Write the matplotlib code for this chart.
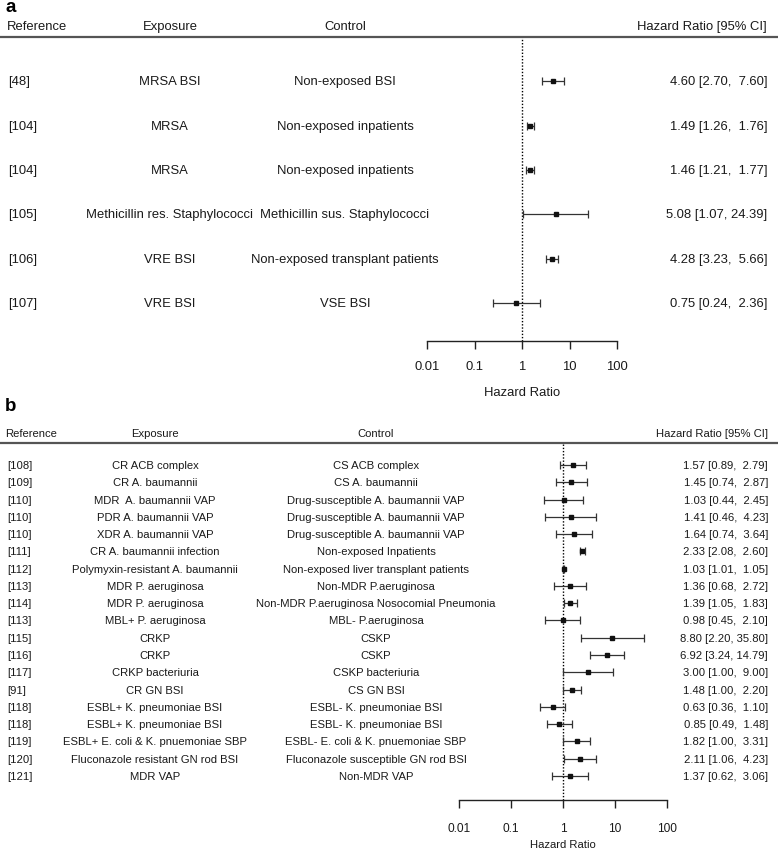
import matplotlib
matplotlib.use("Agg")
import matplotlib.pyplot as plt
import numpy as np

plt.rcParams["font.family"] = ["Liberation Sans", "DejaVu Sans"]

# ---- panel a data ----
refs_a = ["[48]", "[104]", "[104]", "[105]", "[106]", "[107]"]
exposure_a = ["MRSA BSI", "MRSA", "MRSA", "Methicillin res. Staphylococci",
              "VRE BSI", "VRE BSI"]
control_a = ["Non-exposed BSI", "Non-exposed inpatients", "Non-exposed inpatients",
             "Methicillin sus. Staphylococci", "Non-exposed transplant patients",
             "VSE BSI"]
hr_a = [4.60, 1.49, 1.46, 5.08, 4.28, 0.75]
lo_a = [2.70, 1.26, 1.21, 1.07, 3.23, 0.24]
hi_a = [7.60, 1.76, 1.77, 24.39, 5.66, 2.36]

# ---- panel b data ----
refs_b = ["[108]", "[109]", "[110]", "[110]", "[110]", "[111]", "[112]", "[113]",
          "[114]", "[113]", "[115]", "[116]", "[117]", "[91]", "[118]", "[118]",
          "[119]", "[120]", "[121]"]
exposure_b = ["CR ACB complex", "CR A. baumannii", "MDR  A. baumannii VAP",
              "PDR A. baumannii VAP", "XDR A. baumannii VAP",
              "CR A. baumannii infection", "Polymyxin-resistant A. baumannii",
              "MDR P. aeruginosa", "MDR P. aeruginosa", "MBL+ P. aeruginosa",
              "CRKP", "CRKP", "CRKP bacteriuria", "CR GN BSI",
              "ESBL+ K. pneumoniae BSI", "ESBL+ K. pneumoniae BSI",
              "ESBL+ E. coli & K. pnuemoniae SBP", "Fluconazole resistant GN rod BSI",
              "MDR VAP"]
control_b = ["CS ACB complex", "CS A. baumannii", "Drug-susceptible A. baumannii VAP",
             "Drug-susceptible A. baumannii VAP", "Drug-susceptible A. baumannii VAP",
             "Non-exposed Inpatients", "Non-exposed liver transplant patients",
             "Non-MDR P.aeruginosa", "Non-MDR P.aeruginosa Nosocomial Pneumonia",
             "MBL- P.aeruginosa", "CSKP", "CSKP", "CSKP bacteriuria", "CS GN BSI",
             "ESBL- K. pneumoniae BSI", "ESBL- K. pneumoniae BSI",
             "ESBL- E. coli & K. pnuemoniae SBP", "Fluconazole susceptible GN rod BSI",
             "Non-MDR VAP"]
hr_b = [1.57, 1.45, 1.03, 1.41, 1.64, 2.33, 1.03, 1.36, 1.39, 0.98, 8.80, 6.92,
        3.00, 1.48, 0.63, 0.85, 1.82, 2.11, 1.37]
lo_b = [0.89, 0.74, 0.44, 0.46, 0.74, 2.08, 1.01, 0.68, 1.05, 0.45, 2.20, 3.24,
        1.00, 1.00, 0.36, 0.49, 1.00, 1.06, 0.62]
hi_b = [2.79, 2.87, 2.45, 4.23, 3.64, 2.60, 1.05, 2.72, 1.83, 2.10, 35.80, 14.79,
        9.00, 2.20, 1.10, 1.48, 3.31, 4.23, 3.06]

tick_vals = [0.01, 0.1, 1, 10, 100]
tick_labels = ["0.01", "0.1", "1", "10", "100"]

W, H = 778, 853
fig = plt.figure(figsize=(W / 100, H / 100), dpi=100)
TXT = "#1a1a1a"


def panel(letter, refs, exposure, control, hr, lo, hi, top_px, bottom_px,
          x01_px, x100_px, ref_x, exp_x, ctrl_x, hr_x, fs, tick_fs, top_pad,
          bot_pad, head_off, tick_pad, label_pad, letter_y):
    ax = fig.add_axes([0, (H - bottom_px) / H, 1, (bottom_px - top_px) / H])
    ax_h = bottom_px - top_px
    n = len(refs)
    y = np.arange(n)
    hr, lo, hi = np.array(hr), np.array(lo), np.array(hi)

    ax.set_xscale("log")
    ppu = (x100_px - x01_px) / 4.0
    ax.set_xlim(10 ** (-2 - x01_px / ppu), 10 ** (2 + (W - x100_px) / ppu))
    ax.set_ylim(n - 1 + bot_pad, -top_pad)

    ax.axvline(1, color="black", lw=1, ls=(0, (1, 1.3)))
    ax.errorbar(hr, y, xerr=[hr - lo, hi - hr], fmt="s", ms=3.5, color="#111111",
                ecolor="#333333", elinewidth=0.9, capsize=2.6, capthick=0.9)

    tr = ax.get_yaxis_transform()
    for i in range(n):
        ax.text(ref_x / W, i, refs[i], transform=tr, ha="left", va="center",
                fontsize=fs, color=TXT)
        ax.text(exp_x / W, i, exposure[i], transform=tr, ha="center", va="center",
                fontsize=fs, color=TXT)
        ax.text(ctrl_x / W, i, control[i], transform=tr, ha="center", va="center",
                fontsize=fs, color=TXT)
        ax.text(hr_x / W, i, f"{hr[i]:.2f} [{lo[i]:.2f}, {hi[i]:5.2f}]",
                transform=tr, ha="right", va="center", fontsize=fs, color=TXT)

    hy = 1 + head_off / ax_h
    ax.text(ref_x / W - 0.002, hy, "Reference", transform=ax.transAxes, ha="left",
            va="center", fontsize=fs, color=TXT)
    ax.text(exp_x / W, hy, "Exposure", transform=ax.transAxes, ha="center",
            va="center", fontsize=fs, color=TXT)
    ax.text(ctrl_x / W, hy, "Control", transform=ax.transAxes, ha="center",
            va="center", fontsize=fs, color=TXT)
    ax.text(hr_x / W, hy, "Hazard Ratio [95% CI]", transform=ax.transAxes,
            ha="right", va="center", fontsize=fs, color=TXT)
    fig.text(5 / W, 1 - letter_y / H, letter, fontsize=13.5, fontweight="bold",
             ha="left", va="center")

    for s in ["left", "right"]:
        ax.spines[s].set_visible(False)
    ax.spines["top"].set_color("#555555")
    ax.spines["top"].set_linewidth(1.6)
    ax.spines["bottom"].set_bounds(0.01, 100)
    ax.spines["bottom"].set_linewidth(1)
    ax.spines["bottom"].set_color("#222222")
    ax.set_xticks(tick_vals)
    ax.set_xticklabels(tick_labels)
    ax.xaxis.set_minor_locator(matplotlib.ticker.NullLocator())
    ax.tick_params(axis="x", direction="out", length=5.8, width=1, colors="#222222",
                   labelsize=tick_fs, pad=tick_pad, labelcolor=TXT)
    ax.set_yticks([])
    ax.set_xlabel("Hazard Ratio", fontsize=fs, labelpad=label_pad, color=TXT)
    # centre the axis label under the 0.01-100 scale, not the full-width axes
    ax.xaxis.label.set_x((x01_px + x100_px) / 2 / W)
    ax.patch.set_alpha(0)
    return ax


panel("a", refs_a, exposure_a, control_a, hr_a, lo_a, hi_a,
      top_px=38, bottom_px=342, x01_px=427, x100_px=617,
      ref_x=8, exp_x=170, ctrl_x=345, hr_x=767, fs=9.4, tick_fs=9.4,
      top_pad=1.0, bot_pad=0.86, head_off=11, tick_pad=8, label_pad=10,
      letter_y=8)

panel("b", refs_b, exposure_b, control_b, hr_b, lo_b, hi_b,
      top_px=444, bottom_px=801, x01_px=459, x100_px=667,
      ref_x=7, exp_x=155, ctrl_x=376, hr_x=768, fs=8.1, tick_fs=8.6,
      top_pad=1.28, bot_pad=1.4, head_off=10, tick_pad=10, label_pad=4,
      letter_y=407)

fig.savefig("out.png", dpi=100)
